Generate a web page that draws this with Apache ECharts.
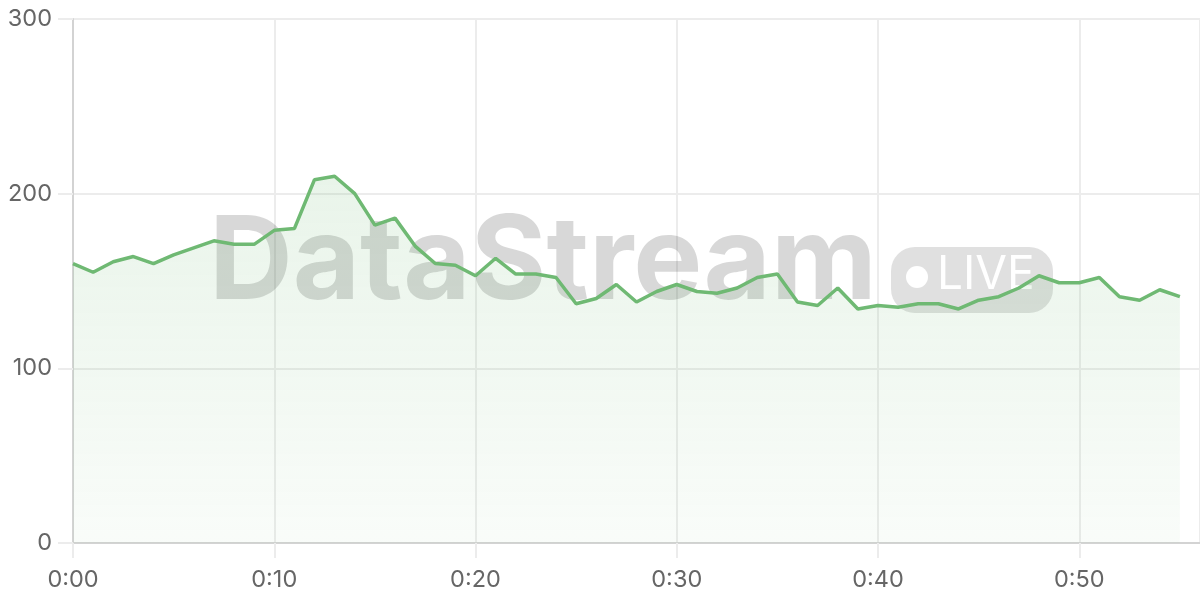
<!DOCTYPE html>
<html>
<head>
<meta charset="utf-8">
<script src="https://cdn.jsdelivr.net/npm/echarts@6/dist/echarts.min.js"></script>
<style>
  html, body { margin: 0; padding: 0; background: #fff; }
  #chart { width: 1200px; height: 600px; }
</style>
</head>
<body>
<div id="chart"></div>
<script>
// one reading per second, 0:00 .. 0:55
const values = [
  160, 155, 161, 164, 160, 165, 169, 173, 171, 171,
  179, 180, 208, 210, 200, 182, 186, 170, 160, 159,
  153, 163, 154, 154, 152, 137, 140, 148, 138, 144,
  148, 144, 143, 146, 152, 154, 138, 136, 146, 134,
  136, 135, 137, 137, 134, 139, 141, 146, 153, 149,
  149, 152, 141, 139, 145, 141,
]
const yTicks = [0, 100, 200, 300]

const points = values.map((v, i) => [i, v])
const fmtTime = (s) => `${Math.floor(s / 60)}:${String(s % 60).padStart(2, '0')}`

const myChart = echarts.init(document.getElementById('chart'))
const font = 'Inter, "Noto Sans", sans-serif'

const option = {
  animation: false,
  grid: { left: 73, right: 0, top: 19, bottom: 57 },
  xAxis: {
    type: 'value',
    min: 0,
    max: 56,
    interval: 10,
    axisLine: { lineStyle: { color: '#d3d3d3', width: 2 } },
    axisTick: { show: true, length: 15, lineStyle: { color: '#ececec', width: 2 } },
    splitLine: { show: true, lineStyle: { color: '#ececec', width: 2 } },
    axisLabel: {
      color: '#666',
      fontSize: 23.5,
      fontFamily: font,
      margin: 25,
      showMaxLabel: false,
      formatter: (v) => fmtTime(v),
    },
  },
  yAxis: {
    type: 'value',
    min: yTicks[0],
    max: yTicks[yTicks.length - 1],
    interval: 100,
    axisLine: { show: true, lineStyle: { color: '#d3d3d3', width: 2 } },
    axisTick: { show: true, length: 15, lineStyle: { color: '#ececec', width: 2 } },
    splitLine: { lineStyle: { color: '#ececec', width: 2 } },
    axisLabel: { color: '#666', fontSize: 23.5, fontFamily: font, margin: 21 },
  },
  graphic: [
    {
      type: 'text',
      left: 209,
      top: 206,
      z: 10,
      silent: true,
      style: {
        text: 'DataStream',
        font: `bold 116px ${font}`,
        fill: 'rgba(60,60,60,0.2)',
      },
    },
    {
      type: 'rect',
      left: 891,
      top: 247,
      z: 10,
      silent: true,
      shape: { width: 162, height: 66, r: 24 },
      style: { fill: 'rgba(60,60,60,0.16)' },
    },
    {
      type: 'circle',
      left: 906,
      top: 266,
      z: 11,
      silent: true,
      shape: { r: 11 },
      style: { fill: '#fff' },
    },
    {
      type: 'text',
      left: 937,
      top: 252,
      z: 11,
      silent: true,
      style: {
        text: 'LIVE',
        font: `46px ${font}`,
        fill: '#fff',
      },
    },
  ],
  series: [
    {
      type: 'line',
      data: points,
      symbol: 'none',
      z: 20,
      lineStyle: { color: '#6fb973', width: 3.5 },
      itemStyle: { color: '#6fb973' },
      areaStyle: {
        color: new echarts.graphic.LinearGradient(0, 0, 0, 1, [
          { offset: 0, color: 'rgba(112,185,116,0.22)' },
          { offset: 1, color: 'rgba(112,185,116,0.06)' },
        ]),
      },
    },
  ],
}
myChart.setOption(option)
</script>
</body>
</html>
